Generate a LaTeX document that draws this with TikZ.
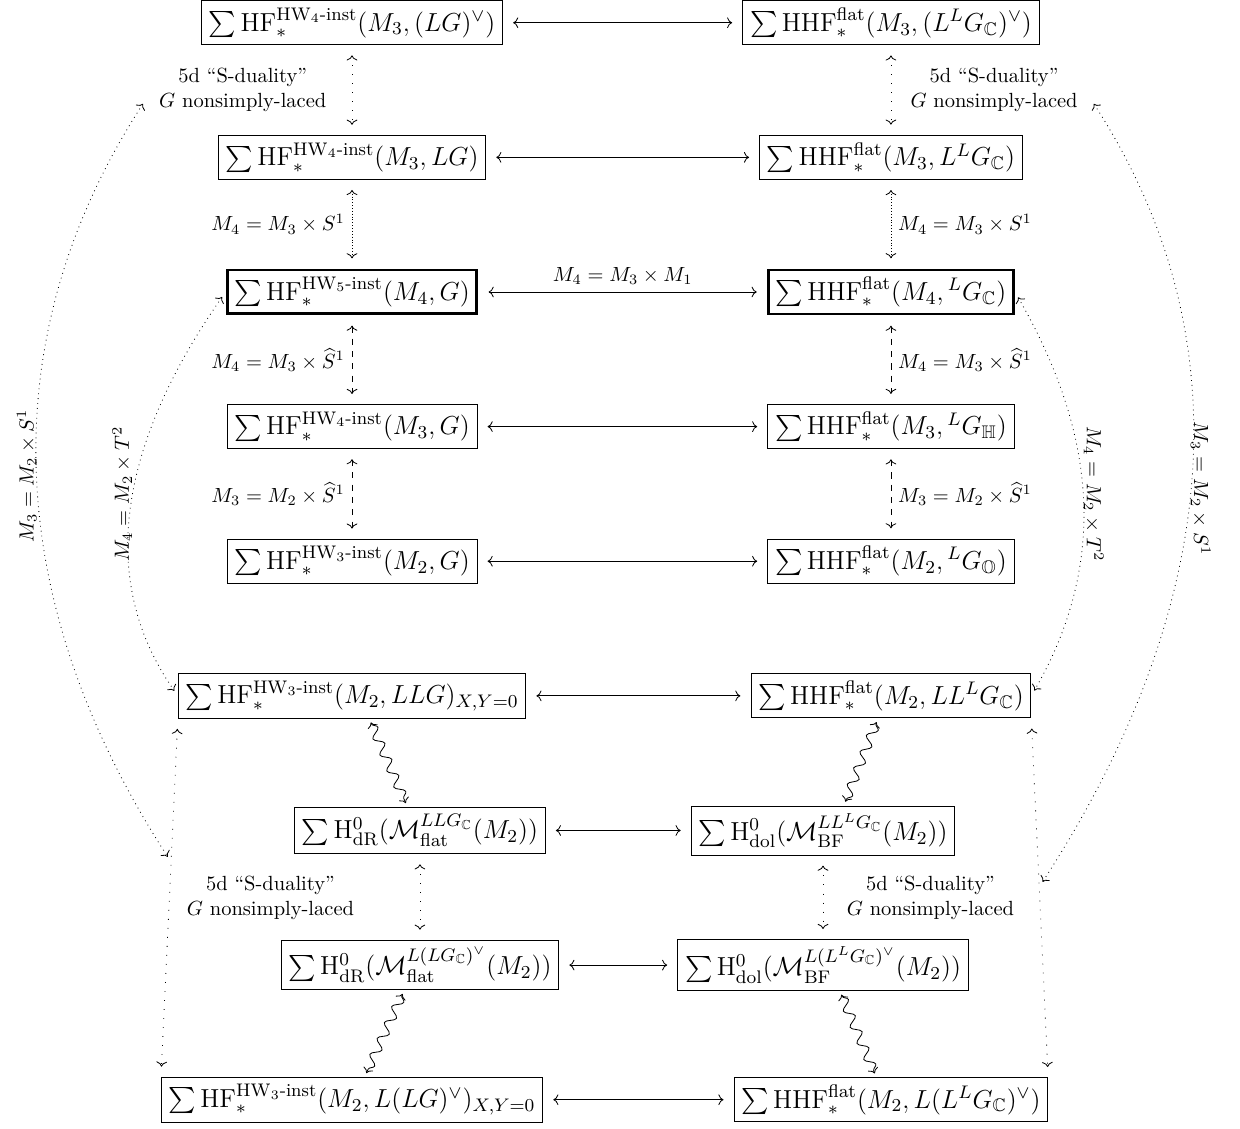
\documentclass[tikz,border=0pt]{standalone}
\usepackage{fix-cm}
\usepackage{amsmath,amssymb}
\usetikzlibrary{arrows.meta,decorations.pathmorphing}

\newcommand{\HFsum}[2]{\sum\mathrm{HF}^{\mathrm{HW}_{#1}\text{-inst}}_{*}(#2)}
\newcommand{\HHFsum}[1]{\sum\mathrm{HHF}^{\mathrm{flat}}_{*}(#1)}
\newcommand{\LGC}{{}^{L}G_{\mathbb{C}}}
\newcommand{\sdual}{5d “S-duality”\\ $G$ nonsimply-laced}

\begin{document}
\begin{tikzpicture}

% GLOBAL SETTINGS
\newlength{\xdist}
\setlength{\xdist}{4.62cm}
\newlength{\xin}
\setlength{\xin}{3.455cm}
\newlength{\ydist}
\setlength{\ydist}{2.308cm}
\tikzset{
  box/.style={draw, inner sep=3.5pt, font=\fontsize{12.7}{15.2}\selectfont},
  mainbox/.style={box, line width=1.4pt},
  link/.style={<->, shorten <=5pt, shorten >=5pt},
  sparse/.style={link, loosely dotted},
  dense/.style={link, densely dotted},
  hatlink/.style={link, dashed},
  squig/.style={<->, shorten <=2pt, shorten >=2pt, decorate,
    decoration={snake, amplitude=0.8mm, segment length=3mm, pre length=1mm, post length=1mm}},
  lift/.style={<->, dotted, shorten <=3pt, shorten >=3pt},
  rlabel/.style={inner sep=0.5pt, anchor=south}
}
\useasboundingbox (-10.655,0.39) rectangle (10.604,-18.96);

% BOXES
\node[box] (L1) at (-\xdist,0) {$\HFsum{4}{M_3,(LG)^{\vee}}$};
\node[box] (R1) at (\xdist,0) {$\HHFsum{M_3,(L^{L}G_{\mathbb{C}})^{\vee}}$};
\node[box] (L2) at (-\xdist,-\ydist) {$\HFsum{4}{M_3,LG}$};
\node[box] (R2) at (\xdist,-\ydist) {$\HHFsum{M_3,L^{L}G_{\mathbb{C}}}$};
\node[mainbox] (L3) at (-\xdist,-2\ydist) {$\HFsum{5}{M_4,G}$};
\node[mainbox] (R3) at (\xdist,-2\ydist) {$\HHFsum{M_4,\LGC}$};
\node[box] (L4) at (-\xdist,-3\ydist) {$\HFsum{4}{M_3,G}$};
\node[box] (R4) at (\xdist,-3\ydist) {$\HHFsum{M_3,{}^{L}G_{\mathbb{H}}}$};
\node[box] (L5) at (-\xdist,-4\ydist) {$\HFsum{3}{M_2,G}$};
\node[box] (R5) at (\xdist,-4\ydist) {$\HHFsum{M_2,{}^{L}G_{\mathbb{O}}}$};
\node[box] (L6) at (-\xdist,-5\ydist) {$\HFsum{3}{M_2,LLG}_{X,Y=0}$};
\node[box] (R6) at (\xdist,-5\ydist) {$\HHFsum{M_2,LL^{L}G_{\mathbb{C}}}$};
\node[box] (L7) at (-\xin,-6\ydist) {$\sum\mathrm{H}^{0}_{\mathrm{dR}}(\mathcal{M}^{LLG_{\mathbb{C}}}_{\mathrm{flat}}(M_2))$};
\node[box] (R7) at (\xin,-6\ydist) {$\sum\mathrm{H}^{0}_{\mathrm{dol}}(\mathcal{M}^{LL^{L}G_{\mathbb{C}}}_{\mathrm{BF}}(M_2))$};
\node[box] (L8) at (-\xin,-7\ydist) {$\sum\mathrm{H}^{0}_{\mathrm{dR}}(\mathcal{M}^{L(LG_{\mathbb{C}})^{\vee}}_{\mathrm{flat}}(M_2))$};
\node[box] (R8) at (\xin,-7\ydist) {$\sum\mathrm{H}^{0}_{\mathrm{dol}}(\mathcal{M}^{L(L^{L}G_{\mathbb{C}})^{\vee}}_{\mathrm{BF}}(M_2))$};
\node[box] (L9) at (-\xdist,-8\ydist) {$\HFsum{3}{M_2,L(LG)^{\vee}}_{X,Y=0}$};
\node[box] (R9) at (\xdist,-8\ydist) {$\HHFsum{M_2,L(L^{L}G_{\mathbb{C}})^{\vee}}$};

% EDGES
\foreach \j in {1,2,4,5,6,7,8,9} {
\draw[link] (L\j) -- (R\j) ;
}
\draw[link] (L3) -- node[above] {$M_4=M_3\times M_1$} (R3) ;
%
\draw[sparse] (L1) -- node[left=9pt, align=center] (sL1) {\sdual} (L2) ;
\draw[sparse] (R1) -- node[right=6pt, align=center] (sR1) {\sdual} (R2) ;
\draw[dense] (L2) -- node[left] {$M_4=M_3\times S^1$} (L3) ;
\draw[dense] (R2) -- node[right] {$M_4=M_3\times S^1$} (R3) ;
\draw[hatlink] (L3) -- node[left] {$M_4=M_3\times\widehat{S}^1$} (L4) ;
\draw[hatlink] (R3) -- node[right] {$M_4=M_3\times\widehat{S}^1$} (R4) ;
\draw[hatlink] (L4) -- node[left] {$M_3=M_2\times\widehat{S}^1$} (L5) ;
\draw[hatlink] (R4) -- node[right] {$M_3=M_2\times\widehat{S}^1$} (R5) ;
%
\draw[squig] (L6.-53) -- (L7.118) ;
\draw[squig] (R6.-120) -- (R7.50) ;
\draw[sparse] (L7) -- (L8) ;
\draw[sparse] (R7) -- (R8) ;
\draw[squig] (L8.-122) -- (L9.61) ;
\draw[squig] (R8.-57) -- (R9.123) ;
\draw[sparse] (L6.south west) -- coordinate[pos=.4] (sdL)
  node[midway, right=5pt, align=center] {\sdual} (L9.north west) ;
\draw[sparse] (R6.south east) -- coordinate[pos=.47] (sdR)
  node[midway, left=9pt, align=center] {\sdual} (R9.north east) ;

% LONG ARCS
\draw[lift] (L3.west) to[out=235, in=125]
  node[midway, rlabel, rotate=90] {$M_4=M_2\times T^2$} (L6.west) ;
\draw[lift] (R3.east) to[out=-60, in=60]
  node[midway, rlabel, rotate=-90] {$M_4=M_2\times T^2$} (R6.east) ;
\draw[lift, shorten <=8pt] (sL1.west) to[out=237, in=123]
  node[midway, rlabel, rotate=90] {$M_3=M_2\times S^1$} (sdL) ;
\draw[lift, shorten <=8pt] (sR1.east) to[out=-57, in=57]
  node[midway, rlabel, rotate=-90] {$M_3=M_2\times S^1$} (sdR) ;

\end{tikzpicture}
\end{document}
